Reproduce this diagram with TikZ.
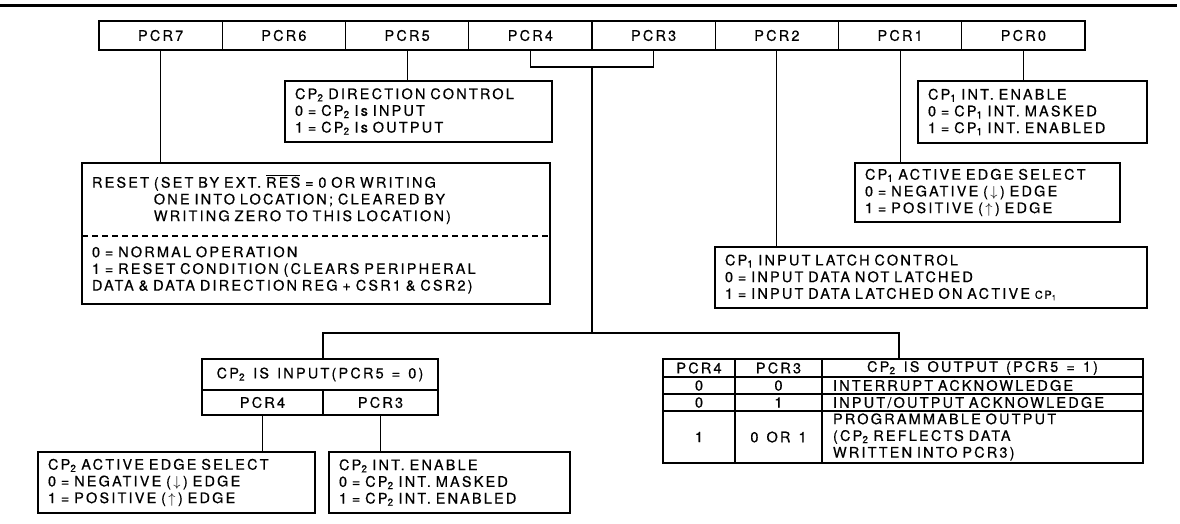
\documentclass[tikz,border=0pt]{standalone}
\usepackage{fontspec}
\setmainfont{TeX Gyre Heros}[LetterSpace=15, WordSpace=1.3, FakeBold=0.5]
\usetikzlibrary{positioning}
\newcommand{\CPsub}[1]{CP\textsubscript{#1}}
\newcommand{\RESbar}{$\overline{\mbox{RES}}$}

\begin{document}
\begin{tikzpicture}[
    x=1pt, y=-1pt,
    every node/.style={font=\fontsize{14.5}{16.7}\selectfont, outer sep=0pt},
    reg/.style={draw, line width=1.4pt, minimum width=123.25pt, minimum height=29pt, inner sep=0pt},
    info/.style={draw, line width=1.4pt, anchor=north west, align=left, inner xsep=10pt, inner ysep=0pt},
    cell/.style={draw, line width=1.4pt, inner sep=0pt, align=center},
    wire/.style={line width=1.2pt}
]
\useasboundingbox (0,0) rectangle (1180,523);
\draw[line width=3pt] (0,5) -- (1177,5);
% Register bits
\node[reg, anchor=north west] (pcr7) at (99,21) {PCR7};
\node[reg, right=0pt of pcr7] (pcr6) {PCR6};
\node[reg, right=0pt of pcr6] (pcr5) {PCR5};
\node[reg, right=0pt of pcr5] (pcr4) {PCR4};
\node[reg, right=0pt of pcr4] (pcr3) {PCR3};
\node[reg, right=0pt of pcr3] (pcr2) {PCR2};
\node[reg, right=0pt of pcr2] (pcr1) {PCR1};
\node[reg, right=0pt of pcr1] (pcr0) {PCR0};
% Upper descriptions
\node[info, text width=247pt, minimum height=61pt] (dir) at (285,81)
    {\CPsub{2} DIRECTION CONTROL\\0 = \CPsub{2} Is INPUT\\1 = \CPsub{2} Is OUTPUT};
\node[info, text width=209pt, minimum height=62pt] (cp1int) at (918,81)
    {\CPsub{1} INT. ENABLE\\0 = \CPsub{1} INT. MASKED\\1 = \CPsub{1} INT. ENABLED};
\node[info, text width=245pt, minimum height=59pt] (cp1edge) at (855,163)
    {\CPsub{1} ACTIVE EDGE SELECT\\0 = NEGATIVE (\,$\downarrow$\,) EDGE\\1 = POSITIVE (\,$\uparrow$\,) EDGE};
\node[info, text width=412pt, minimum height=61pt] (latch) at (715,247)
    {\CPsub{1} INPUT LATCH CONTROL\\0 = INPUT DATA NOT LATCHED\\1 = INPUT DATA LATCHED ON ACTIVE {\fontsize{11}{12}\selectfont CP\textsubscript{1}}};
% Reset, split by a dashed line
\node[info, draw=none, text width=448pt, minimum height=73pt] (rsthead) at (82,163)
    {RESET (SET BY EXT. \RESbar{} = 0 OR WRITING\\\hphantom{RESET }ONE INTO LOCATION; CLEARED BY\\\hphantom{RESET }WRITING ZERO TO THIS LOCATION)};
\node[info, draw=none, text width=448pt, minimum height=68pt] (rstbody) at (rsthead.south west)
    {0 = NORMAL OPERATION\\1 = RESET CONDITION (CLEARS PERIPHERAL\\DATA \& DATA DIRECTION REG + CSR1 \& CSR2)};
\draw[line width=1.4pt] (rsthead.north west) rectangle (rstbody.south east);
\draw[wire, dash pattern=on 6pt off 4pt] (rsthead.south west) -- (rsthead.south east);
% CP2 is input
\node[cell, anchor=north west, minimum width=236pt, minimum height=31pt] (inhead) at (202,359)
    {\CPsub{2} IS INPUT(PCR5 = 0)};
\node[cell, anchor=north west, minimum width=121pt, minimum height=25pt] (in4) at (inhead.south west) {PCR4};
\node[cell, right=0pt of in4, minimum width=115pt, minimum height=25pt] (in3) {PCR3};
\node[info, text width=257pt, minimum height=61pt] (cp2edge) at (38,452)
    {\CPsub{2} ACTIVE EDGE SELECT\\0 = NEGATIVE (\,$\downarrow$\,) EDGE\\1 = POSITIVE (\,$\uparrow$\,) EDGE};
\node[info, text width=221pt, minimum height=61pt] (cp2int) at (329,452)
    {\CPsub{2} INT. ENABLE\\0 = \CPsub{2} INT. MASKED\\1 = \CPsub{2} INT. ENABLED};
% CP2 is output table
\node[cell, anchor=north west, minimum width=72pt, minimum height=18pt] (t04) at (663,359) {PCR4};
\node[cell, right=0pt of t04, minimum width=87pt, minimum height=18pt] (t03) {PCR3};
\node[cell, right=0pt of t03, minimum width=321pt, minimum height=18pt] (t0x) {\CPsub{2} IS OUTPUT (PCR5 = 1)};
\node[cell, below=0pt of t04, minimum width=72pt, minimum height=17pt] (t14) {0};
\node[cell, right=0pt of t14, minimum width=87pt, minimum height=17pt] (t13) {0};
\node[cell, right=0pt of t13, text width=299pt, inner xsep=11pt, align=left, minimum height=17pt] (t1x) {INTERRUPT ACKNOWLEDGE};
\node[cell, below=0pt of t14, minimum width=72pt, minimum height=17pt] (t24) {0};
\node[cell, right=0pt of t24, minimum width=87pt, minimum height=17pt] (t23) {1};
\node[cell, right=0pt of t23, text width=299pt, inner xsep=11pt, align=left, minimum height=17pt] (t2x) {INPUT/OUTPUT ACKNOWLEDGE};
\node[cell, below=0pt of t24, minimum width=72pt, minimum height=52pt] (t34) {1};
\node[cell, right=0pt of t34, minimum width=87pt, minimum height=52pt] (t33) {0 OR 1};
\node[cell, right=0pt of t33, text width=299pt, inner xsep=11pt, align=left, minimum height=52pt] (t3x)
    {PROGRAMMABLE OUTPUT\\(\CPsub{2} REFLECTS DATA\\WRITTEN INTO PCR3)};
% Connectors
\coordinate (brace) at (592,67);
\coordinate (hub) at (592,333);
\draw[wire] (pcr7.south) -- (pcr7.south |- rsthead.north);
\draw[wire] (pcr5.south) -- (pcr5.south |- dir.north);
\draw[wire] (pcr4.south) |- (brace) -| (pcr3.south);
\draw[wire] (brace) -- (hub);
\draw[wire] (pcr2.south) -- (pcr2.south |- latch.north);
\draw[wire] (pcr1.south) -- (pcr1.south |- cp1edge.north);
\draw[wire] (pcr0.south) -- (pcr0.south |- cp1int.north);
\draw[wire] (inhead.north -| in4.north east) |- (hub) -| ([xshift=77pt]t0x.north west);
\draw[wire] (in4.south) -- (in4.south |- cp2edge.north);
\draw[wire] (in3.south) -- (in3.south |- cp2int.north);
\end{tikzpicture}
\end{document}
